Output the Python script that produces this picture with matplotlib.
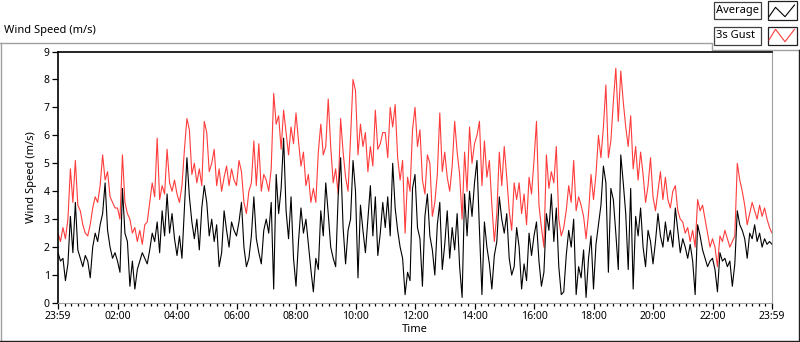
import numpy as np
import matplotlib.pyplot as plt
from matplotlib.patches import Rectangle
from matplotlib.ticker import FixedLocator

plt.rcParams['font.family'] = ['Noto Sans', 'DejaVu Sans']

# readings every 5 min, one row per hour (23:59 -> 23:59)
average = [
    1.8, 1.5, 1.6, 0.8, 1.4, 3.1, 1.8, 3.6, 1.9, 1.6, 1.3, 1.7,
    1.5, 0.9, 2.0, 2.5, 2.2, 2.8, 3.2, 4.3, 2.6, 2.0, 1.6, 1.8,
    1.5, 1.1, 4.1, 2.5, 2.2, 0.6, 1.5, 0.5, 1.2, 1.5, 1.8, 1.6,
    1.4, 1.9, 2.5, 2.2, 2.9, 1.8, 3.3, 2.4, 3.9, 2.5, 3.2, 2.3,
    1.7, 2.4, 1.6, 3.4, 5.2, 3.8, 2.9, 2.3, 3.0, 1.9, 3.4, 4.2,
    3.6, 2.4, 3.0, 2.2, 2.8, 1.3, 1.8, 3.3, 2.6, 2.0, 2.9, 2.6,
    2.4, 2.9, 3.6, 2.0, 1.3, 1.6, 2.4, 3.8, 2.3, 1.8, 1.4, 2.6,
    3.0, 2.5, 3.6, 0.5, 4.6, 3.2, 4.1, 5.9, 3.3, 2.3, 3.8, 1.6,
    0.6, 2.2, 3.4, 2.5, 3.0, 2.1, 1.2, 0.4, 1.6, 1.2, 3.3, 2.4,
    4.3, 3.2, 2.0, 1.6, 1.3, 3.8, 5.2, 2.7, 1.4, 2.6, 3.0, 5.1,
    4.0, 0.9, 3.5, 2.6, 1.8, 3.0, 4.2, 2.4, 3.8, 1.7, 2.5, 3.6,
    2.7, 3.8, 2.4, 5.0, 3.4, 2.6, 2.0, 1.6, 0.3, 1.1, 0.8, 4.1,
    4.6, 2.7, 2.3, 0.6, 3.1, 3.9, 2.4, 1.9, 1.0, 2.8, 3.6, 1.2,
    2.1, 3.3, 1.6, 2.7, 1.9, 3.2, 1.3, 0.2, 3.9, 2.4, 4.0, 3.1,
    4.3, 5.1, 2.6, 0.3, 2.9, 2.0, 1.4, 0.5, 1.7, 2.2, 3.8, 3.0,
    2.5, 3.2, 1.6, 1.0, 1.3, 2.7, 2.0, 0.5, 1.4, 0.8, 2.5, 1.7,
    2.4, 2.9, 1.5, 0.6, 1.1, 3.2, 2.6, 3.9, 2.2, 3.4, 1.3, 0.3,
    0.4, 1.7, 2.6, 2.0, 3.0, 0.3, 1.3, 0.9, 1.9, 0.2, 1.6, 2.4,
    0.5, 2.1, 2.8, 3.5, 4.9, 4.3, 1.1, 4.1, 3.7, 2.5, 1.2, 5.3,
    4.3, 3.2, 1.2, 4.1, 0.5, 3.1, 2.4, 3.4, 2.0, 1.3, 2.6, 2.2,
    1.4, 2.2, 3.2, 2.4, 2.0, 2.9, 2.2, 2.6, 2.0, 3.4, 2.6, 1.8,
    2.3, 2.0, 1.6, 2.1, 1.5, 0.3, 2.8, 2.4, 1.9, 1.6, 1.3, 1.5,
    1.6, 1.2, 0.4, 1.8, 1.5, 1.6, 1.3, 1.5, 0.6, 1.4, 3.3, 2.8,
    2.6, 2.3, 1.6, 2.5, 2.3, 2.8, 2.2, 2.5, 2.0, 2.3, 2.1, 2.2,
    2.1,
]

gust = [
    2.5, 2.2, 2.7, 2.3, 3.0, 4.8, 3.6, 5.1, 3.5, 3.3, 2.8, 2.5,
    2.4, 2.8, 3.4, 3.8, 3.6, 4.2, 5.3, 4.4, 4.7, 3.8, 3.6, 3.4,
    3.4, 3.0, 5.3, 3.6, 3.2, 3.0, 2.5, 2.7, 2.2, 2.6, 2.1, 2.8,
    2.9, 3.6, 4.3, 3.8, 5.9, 3.7, 4.2, 3.9, 5.5, 4.3, 4.0, 4.4,
    3.9, 3.6, 4.2, 5.5, 6.6, 6.2, 4.6, 5.0, 4.3, 4.8, 4.2, 6.5,
    6.1, 4.7, 5.0, 5.5, 4.2, 4.8, 4.0, 4.5, 4.9, 4.2, 4.8, 4.4,
    4.2, 5.1, 4.7, 3.6, 3.2, 4.0, 4.3, 5.8, 4.2, 5.7, 4.0, 4.6,
    4.4, 4.0, 4.8, 7.5, 6.4, 6.7, 5.5, 6.9, 6.1, 5.3, 6.3, 5.7,
    6.8, 5.8, 4.9, 5.4, 4.2, 4.6, 3.6, 4.1, 3.6, 5.4, 6.4, 5.3,
    5.6, 7.3, 5.6, 4.3, 4.8, 3.9, 6.6, 5.4, 4.5, 4.0, 5.9, 8.0,
    7.6, 5.3, 6.4, 5.6, 6.1, 4.7, 5.6, 4.9, 6.9, 5.5, 5.7, 6.1,
    6.1, 5.2, 7.0, 6.3, 7.1, 5.2, 4.4, 5.1, 2.5, 4.5, 4.0, 6.2,
    7.0, 5.6, 6.2, 4.4, 3.9, 5.3, 5.0, 3.1, 3.6, 4.6, 6.8, 4.7,
    5.4, 4.5, 4.0, 4.9, 6.5, 5.4, 4.6, 3.0, 5.4, 4.0, 6.3, 5.0,
    5.7, 6.0, 6.5, 4.2, 5.8, 4.5, 5.1, 3.5, 2.2, 3.2, 5.4, 4.2,
    5.6, 4.5, 3.3, 2.6, 4.3, 3.7, 4.3, 3.2, 3.9, 2.8, 4.5, 3.9,
    5.1, 6.5, 3.5, 2.7, 2.0, 5.3, 4.1, 4.7, 4.3, 5.6, 3.0, 2.4,
    2.7, 3.3, 4.2, 3.6, 5.1, 3.3, 3.8, 3.5, 3.1, 2.3, 3.2, 4.6,
    3.7, 4.6, 6.0, 5.2, 6.3, 7.8, 5.2, 5.8, 7.2, 8.4, 6.5, 8.3,
    7.2, 6.3, 5.6, 6.7, 4.8, 5.6, 4.4, 5.4, 4.6, 3.6, 4.2, 5.2,
    3.8, 3.3, 4.0, 4.7, 3.7, 4.5, 3.7, 3.4, 4.0, 4.2, 3.3, 3.0,
    2.9, 2.5, 2.7, 2.2, 2.6, 2.0, 3.7, 3.3, 3.5, 3.0, 2.5, 2.0,
    2.3, 2.0, 1.3, 2.4, 2.2, 2.6, 2.3, 2.0, 2.2, 2.4, 5.0, 4.4,
    4.0, 3.5, 2.8, 3.2, 3.6, 3.3, 3.0, 3.5, 3.1, 3.4, 3.0, 2.7,
    2.5,
]

time_labels = ['23:59', '02:00', '04:00', '06:00', '08:00', '10:00', '12:00',
               '14:00', '16:00', '18:00', '20:00', '22:00', '23:59']

W, H = 800, 342
fig = plt.figure(figsize=(W / 100, H / 100), dpi=100)

# background layer in pixel coords for the panel frame + legend
bg = fig.add_axes([0, 0, 1, 1])
bg.set_xlim(0, W)
bg.set_ylim(H, 0)
bg.axis('off')

grey = '#a0a0a0'
bg.plot([0, 712, 712, W], [42.5, 42.5, 49.5, 49.5], color=grey, lw=1)
bg.plot([0.5, 0.5], [42.5, 341], color=grey, lw=1)
bg.plot([0, 798.5, 798.5], [340.5, 340.5, 49.5], color='#202020', lw=1)

bg.text(4, 31, 'Wind Speed (m/s)', fontsize=8, va='center', ha='left')

# legend
for y0, name, col, zig in [(1.5, 'Average', 'black', [16.7, 7.3, 16.7, 5]),
                           (27, '3s Gust', '#ff3c3c', [40, 29.3, 41.7, 29.3])]:
    bg.add_patch(Rectangle((714, y0), 47, 17.5, facecolor='white',
                           edgecolor='#404040', lw=0.9))
    bg.add_patch(Rectangle((768, y0 - 0.5), 29, 18.5, facecolor='white',
                           edgecolor='#202020', lw=0.9))
    bg.text(716, y0 + 9, name, fontsize=8, va='center', ha='left')
    bg.plot([769, 775.5, 785, 794.5], zig, color=col, lw=0.8)

ax = fig.add_axes([58 / W, 1 - 303 / H, (772 - 58) / W, (303 - 51.5) / H])
minutes = np.arange(len(average)) * 5
ax.plot(minutes, gust, color='#ff3c3c', lw=0.8)
ax.plot(minutes, average, color='black', lw=0.8)

ax.set_xlim(0, 1440)
ax.set_ylim(0, 9)
ax.set_xticks(np.arange(0, 1441, 120))
ax.set_xticklabels(time_labels)
ax.xaxis.set_minor_locator(FixedLocator(np.arange(0, 1441, 120 / 9)))
ax.set_yticks(range(10))

ax.tick_params(axis='both', which='major', labelsize=7.5, direction='out',
               length=4, width=0.9, pad=2)
ax.tick_params(axis='x', which='minor', direction='out', length=2.5, width=0.9)
ax.spines['right'].set_color(grey)
ax.spines['bottom'].set_color(grey)
ax.spines['left'].set_linewidth(1.2)
ax.spines['top'].set_linewidth(1.2)

ax.set_ylabel('Wind Speed (m/s)', fontsize=8, labelpad=5)
ax.set_xlabel('Time', fontsize=8, labelpad=1)

fig.savefig('out.png', dpi=100)
